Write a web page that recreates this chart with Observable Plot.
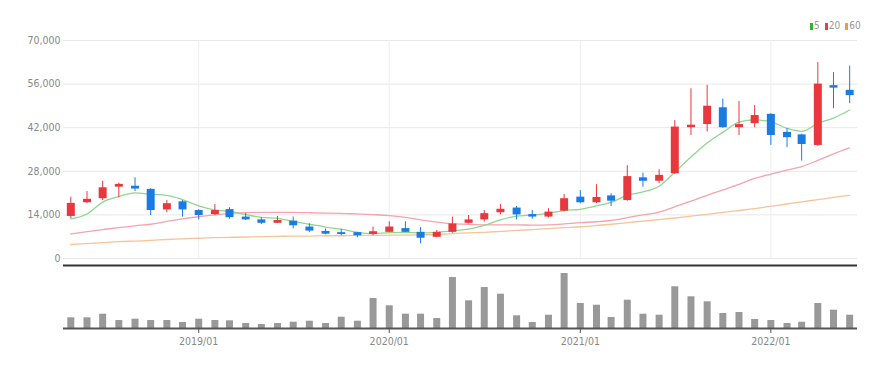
<!DOCTYPE html>
<html><head><meta charset="utf-8">
<script src="https://cdn.jsdelivr.net/npm/d3@7"></script>
<script src="https://cdn.jsdelivr.net/npm/@observablehq/plot@0.6"></script>
<style>
body{margin:0;background:#fff;}
#wrap{position:relative;width:895px;height:369px;font-family:"Liberation Sans Narrow","DejaVu Sans Condensed",sans-serif;overflow:hidden;}
#price{position:absolute;left:0;top:0;}
#vol{position:absolute;left:0;top:262px;}
#legend{position:absolute;top:21px;left:810px;font-size:10px;line-height:10px;color:#999;display:flex;align-items:center;white-space:nowrap;}
.sw{display:inline-block;width:3px;height:7px;margin-right:1px;}
.lab{margin-right:5px;}
</style></head><body>
<div id="wrap">
<div id="price"></div>
<div id="vol"></div>
<div id="legend"></div>
</div>
<script>
const months = ["2018-05","2018-06","2018-07","2018-08","2018-09","2018-10","2018-11","2018-12",
"2019-01","2019-02","2019-03","2019-04","2019-05","2019-06","2019-07","2019-08","2019-09","2019-10","2019-11","2019-12",
"2020-01","2020-02","2020-03","2020-04","2020-05","2020-06","2020-07","2020-08","2020-09","2020-10","2020-11","2020-12",
"2021-01","2021-02","2021-03","2021-04","2021-05","2021-06","2021-07","2021-08","2021-09","2021-10","2021-11","2021-12",
"2022-01","2022-02","2022-03","2022-04","2022-05","2022-06"];
const open  = [13500,17900,19200,22900,23200,22200,15600,18200,15400,14100,15700,13300,12400,11300,12000,10100,8700,8300,8300,7700,8400,9600,8400,6800,8400,11300,12400,14700,16200,14100,13300,15200,19700,17900,20100,18600,25900,24800,27200,42000,43000,48400,42000,43300,46300,40500,39700,36300,55500,54000];
const high  = [19700,21500,24800,24200,25900,22400,18600,18600,15700,17300,16300,14500,13100,13500,13300,11100,9500,9300,8400,10100,11800,11800,9900,9000,13300,13800,15400,17300,16700,15400,16000,20600,21800,23700,20800,29800,27400,28500,44300,54500,55600,51200,50400,49100,46500,41700,39900,62900,59700,61800];
const low   = [12800,17600,18600,19500,21500,13800,14700,13300,12400,13800,12600,12200,10900,11200,9500,8300,7600,7300,6700,7300,8300,8300,4700,6700,8100,11100,11700,14000,12400,12600,13000,15000,17600,17600,16700,18400,22900,24000,27000,39500,40600,41800,39500,42000,36300,35600,31300,36000,48100,49700];
const close = [17700,19000,22700,23800,22300,15400,17600,15600,13800,15400,13100,12400,11300,12200,10500,8800,7800,7700,7300,8600,10100,8400,6500,8400,11100,12400,14400,15800,14000,13300,14900,19200,17900,19600,18400,26300,24800,26700,42200,42800,48900,42000,43000,45900,39500,38800,36600,56000,54700,52300];
const volume = [1070,1070,1430,800,930,800,800,600,930,800,770,500,400,500,630,730,500,1130,730,3000,2270,1430,1430,1000,5100,2770,4100,3430,1270,600,1330,5500,2500,2330,1100,2830,1430,1330,4170,3170,2670,1500,1600,900,800,500,630,2500,1830,1330];
const ma5  = [12700,14300,18100,19900,21100,20600,20300,18900,16900,15600,15100,14100,13200,12900,11900,11000,10100,9400,8400,8000,8300,8400,8200,8400,8900,9400,10600,12400,13600,14000,14500,15400,15800,16900,18000,20300,21400,23200,27700,32600,37100,40500,43800,44500,43900,41800,40800,43400,45100,47700];
const ma20 = [7900,8600,9300,9900,10500,11000,11900,12700,13400,14000,14400,14700,14800,14800,14800,14700,14600,14500,14300,14100,13800,13200,12400,11700,11100,11000,10800,10800,10800,10700,10800,11100,11500,11800,12200,13100,14000,14900,16600,18400,20300,22000,23800,25700,27100,28400,29500,31500,33600,35500];
const ma60 = [4500,4800,5100,5400,5600,5800,6100,6300,6500,6700,6800,6900,7000,7100,7200,7200,7300,7300,7400,7400,7500,7500,7600,7700,8000,8200,8400,8700,9000,9300,9600,9900,10200,10600,11000,11500,12000,12500,13000,13600,14200,14800,15400,16000,16800,17500,18200,18900,19600,20300];
const yTicks = [0,14000,28000,42000,56000,70000];
const xTickLabels = ["2019/01","2020/01","2021/01","2022/01"];
const legendItems = [{label:"5", color:"#2fb52f"},{label:"20", color:"#f03c3c"},{label:"60", color:"#f5993a"}];

const FONT = '"Liberation Sans Narrow","DejaVu Sans Condensed",sans-serif';
const parseM = d3.utcParse("%Y-%m");
const parseT = d3.utcParse("%Y/%m");
const rows = months.map((m,i)=>({date:parseM(m), open:open[i], high:high[i], low:low[i], close:close[i], volume:volume[i], ma5:ma5[i], ma20:ma20[i], ma60:ma60[i]}));
const tickDates = xTickLabels.map(parseT);
const xDomain = [new Date(Date.UTC(2018,3,17)), new Date(Date.UTC(2022,5,16))];
const UP = "#e8383d", DOWN = "#1a7be3";
const up = rows.filter(d=>d.close>=d.open), down = rows.filter(d=>d.close<d.open);

const price = Plot.plot({
  width:895, height:270, marginLeft:63, marginRight:38, marginTop:40, marginBottom:12,
  style:{fontFamily:FONT, fontSize:"10.5px", color:"#888", background:"transparent"},
  x:{type:"utc", domain:xDomain, axis:null},
  y:{domain:[0,70000], axis:null},
  marks:[
    Plot.gridY(yTicks, {stroke:"#e8e8e8", strokeOpacity:1}),
    Plot.gridX(tickDates, {stroke:"#eeeeee", strokeOpacity:1}),
    Plot.axisY(yTicks, {tickSize:0, tickPadding:3, tickFormat:d3.format(","), fill:"#888", label:null}),
    Plot.line(rows, {x:"date", y:"ma60", stroke:"#f7c39a", strokeWidth:1.3, curve:"monotone-x"}),
    Plot.line(rows, {x:"date", y:"ma20", stroke:"#f5a3ad", strokeWidth:1.3, curve:"monotone-x"}),
    Plot.line(rows, {x:"date", y:"ma5", stroke:"#8fd68f", strokeWidth:1.3, curve:"monotone-x"}),
    Plot.ruleX(up, {x:"date", y1:"low", y2:"high", stroke:UP, strokeWidth:1}),
    Plot.ruleX(down, {x:"date", y1:"low", y2:"high", stroke:DOWN, strokeWidth:1}),
    Plot.ruleX(up, {x:"date", y1:"open", y2:"close", stroke:UP, strokeWidth:8}),
    Plot.ruleX(down, {x:"date", y1:"open", y2:"close", stroke:DOWN, strokeWidth:8})
  ]
});
document.getElementById("price").appendChild(price);

const vol = Plot.plot({
  width:895, height:107, marginLeft:63, marginRight:38, marginTop:3, marginBottom:41,
  style:{fontFamily:FONT, fontSize:"10.5px", color:"#888", background:"transparent"},
  x:{type:"utc", domain:xDomain, axis:null},
  y:{domain:[0,6300], axis:null},
  marks:[
    Plot.ruleX(rows, {x:"date", y1:0, y2:"volume", stroke:"#999", strokeWidth:7}),
    Plot.ruleY([0], {stroke:"#555", strokeWidth:2}),
    Plot.ruleY([6300], {stroke:"#333", strokeWidth:2}),
    Plot.axisX(tickDates, {tickSize:5, tickPadding:4, stroke:"#555", fill:"#888",
      tickFormat:d=>xTickLabels[tickDates.findIndex(t=>+t===+d)], label:null})
  ]
});
document.getElementById("vol").appendChild(vol);

const lg = document.getElementById("legend");
legendItems.forEach(it=>{
  const s=document.createElement("span"); s.className="sw"; s.style.background=it.color; lg.appendChild(s);
  const t=document.createElement("span"); t.className="lab"; t.textContent=it.label; lg.appendChild(t);
});
</script>
</body></html>
